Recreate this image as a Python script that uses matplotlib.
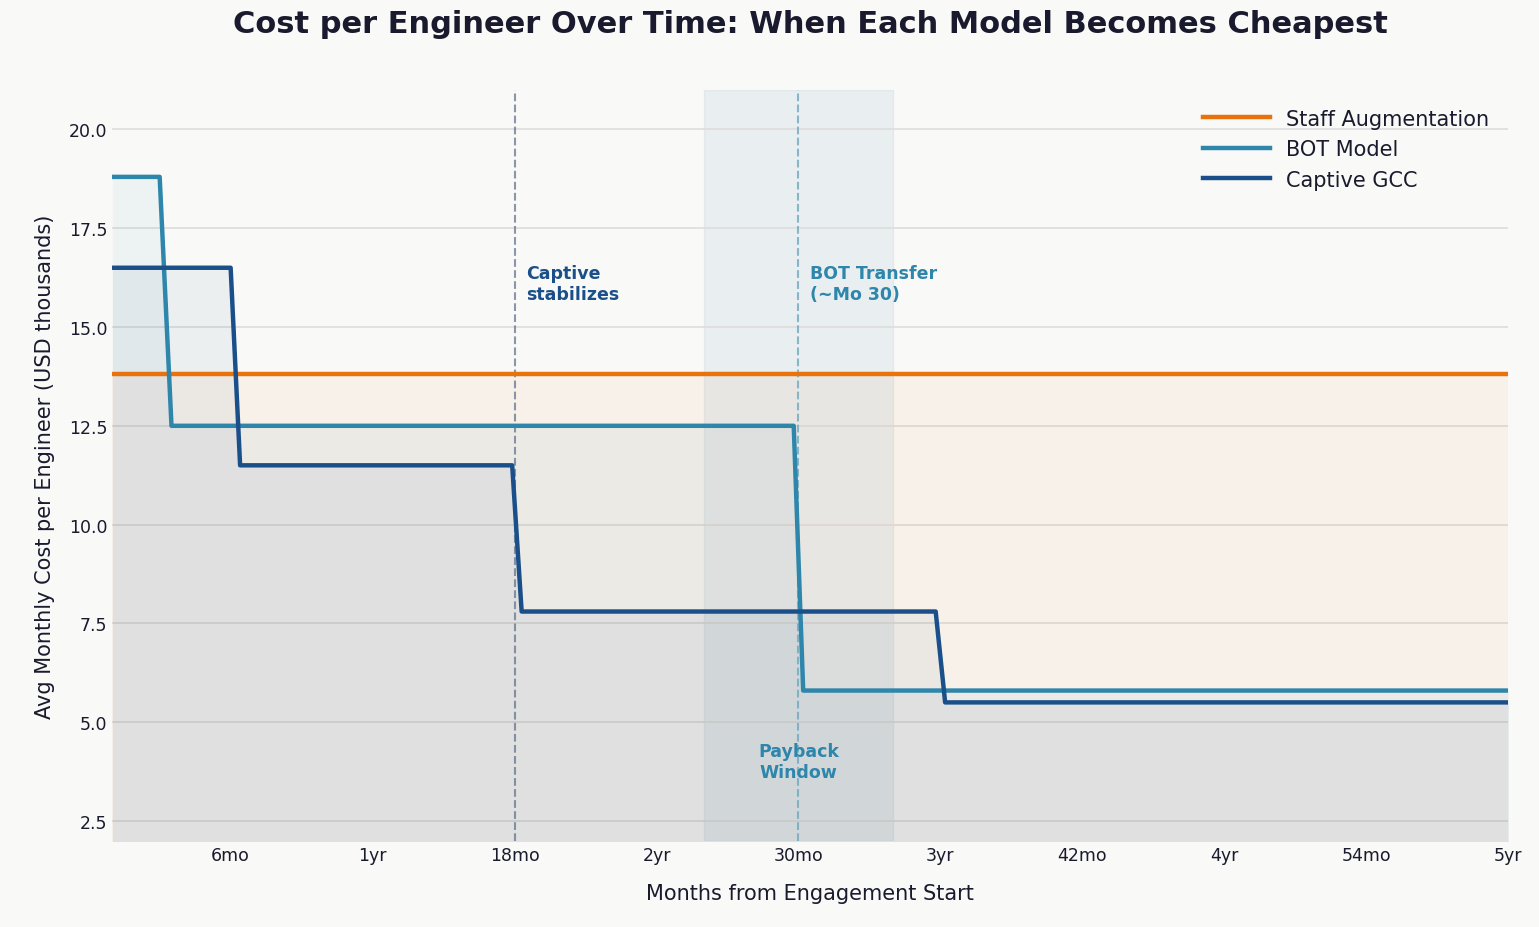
import numpy as np
import matplotlib.pyplot as plt

# step breakpoints (month, USD thousands)
staff_x = [1, 60]
staff_y = [13.8, 13.8]
bot_x = [1, 3.0, 3.5, 29.8, 30.2, 60]
bot_y = [18.8, 18.8, 12.5, 12.5, 5.8, 5.8]
gcc_x = [1, 6.0, 6.4, 17.9, 18.3, 35.8, 36.2, 60]
gcc_y = [16.5, 16.5, 11.5, 11.5, 7.8, 7.8, 5.5, 5.5]

tick_pos = [6, 12, 18, 24, 30, 36, 42, 48, 54, 60]
tick_lab = ["6mo", "1yr", "18mo", "2yr", "30mo", "3yr", "42mo", "4yr", "54mo", "5yr"]

bg = "#f9f9f7"
c_staff, c_bot, c_gcc = "#e8730c", "#2e86ab", "#1b4f8a"
ink = "#1a1a2e"

fig, ax = plt.subplots(figsize=(15.39, 9.28), dpi=100)
fig.patch.set_facecolor(bg)
ax.set_facecolor(bg)

ax.axvspan(26, 34, color="#a9c4d6", alpha=0.2, zorder=0)

for x, y, c, lab in [(staff_x, staff_y, c_staff, "Staff Augmentation"),
                     (bot_x, bot_y, c_bot, "BOT Model"),
                     (gcc_x, gcc_y, c_gcc, "Captive GCC")]:
    ax.fill_between(x, y, 0, color=c, alpha=0.06, lw=0)
    ax.plot(x, y, color=c, lw=3.2, label=lab, zorder=3)

ax.axvline(18, color="#5a6e8a", ls="--", lw=1.5, alpha=0.7)
ax.axvline(30, color="#6fa8c0", ls="--", lw=1.5, alpha=0.8)

ax.text(18.5, 16.6, "Captive\nstabilizes", color=c_gcc, fontsize=12.5,
        fontweight="bold", va="top", ha="left")
ax.text(30.5, 16.6, "BOT Transfer\n(~Mo 30)", color=c_bot, fontsize=12.5,
        fontweight="bold", va="top", ha="left")
ax.text(30, 4.0, "Payback\nWindow", color=c_bot, fontsize=12.5,
        fontweight="bold", va="center", ha="center")

ax.set_xlim(1, 60)
ax.set_ylim(2, 21)
ax.set_xticks(tick_pos)
ax.set_xticklabels(tick_lab)
ax.set_yticks(np.arange(2.5, 20.1, 2.5))
ax.tick_params(labelsize=12.5, colors=ink, length=0)
ax.grid(axis="y", color="#dddddd", lw=1.2)
ax.set_axisbelow(True)
for s in ["top", "right", "left", "bottom"]:
    ax.spines[s].set_visible(False)

ax.set_xlabel("Months from Engagement Start", fontsize=15, color=ink, labelpad=14)
ax.set_ylabel("Avg Monthly Cost per Engineer (USD thousands)", fontsize=15, color=ink, labelpad=10)
ax.set_title("Cost per Engineer Over Time: When Each Model Becomes Cheapest",
             fontsize=22, fontweight="bold", color=ink, pad=42)

leg = ax.legend(loc="upper right", fontsize=15, frameon=False, handlelength=3.2,
                bbox_to_anchor=(1.0, 1.0))
for t in leg.get_texts():
    t.set_color(ink)

plt.subplots_adjust(left=0.073, right=0.98, top=0.902, bottom=0.093)
fig.savefig("out.png", dpi=100, facecolor=bg)
